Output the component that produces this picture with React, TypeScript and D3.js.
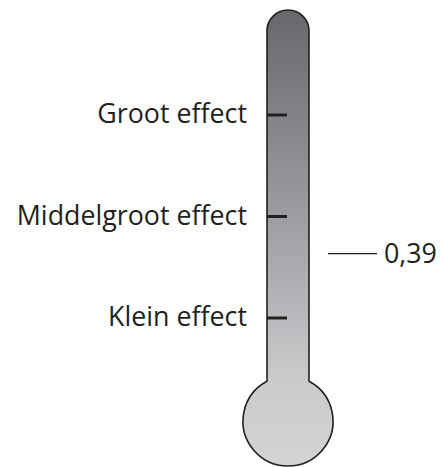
import React from "react";
import * as d3 from "d3";

const categories = ["Klein effect", "Middelgroot effect", "Groot effect"];
const categoryValues = [0.2, 0.5, 0.8];
const observedValue = 0.39;
const observedLabel = "0,39";

export default function App() {
  const W = 442, H = 467;
  const y = d3.scaleLinear().domain([0.2, 0.8]).range([318, 115]);
  const tubeL = 267, tubeR = 309, tubeTop = 10;
  const r = (tubeR - tubeL) / 2;
  const cx = (tubeL + tubeR) / 2;
  const bulbCy = 421, bulbR = 45;
  const dx = cx - tubeL;
  const jy = bulbCy - Math.sqrt(bulbR * bulbR - dx * dx);
  const p = d3.path();
  p.moveTo(tubeL, jy);
  p.lineTo(tubeL, tubeTop + r);
  p.arc(cx, tubeTop + r, r, Math.PI, 0);
  p.lineTo(tubeR, jy);
  const a0 = Math.atan2(jy - bulbCy, tubeR - cx);
  const a1 = Math.atan2(jy - bulbCy, tubeL - cx) + 2 * Math.PI;
  p.arc(cx, bulbCy, bulbR, a0, a1);
  p.closePath();
  const font = "'Open Sans', sans-serif";
  const fs = 26.8;
  return (
    <svg width={W} height={H} style={{ position: "absolute", left: 0, top: 0 }}>
      <defs>
        <linearGradient id="g" gradientUnits="userSpaceOnUse" x1={0} y1={tubeTop} x2={0} y2={H}>
          <stop offset="0" stopColor="#67686c" />
          <stop offset="0.45" stopColor="#9c9da0" />
          <stop offset="0.82" stopColor="#cbccce" />
          <stop offset="1" stopColor="#d2d3d5" />
        </linearGradient>
      </defs>
      <path d={p.toString()} fill="url(#g)" stroke="#231f20" strokeWidth={1.6} />
      {categories.map((c, i) => (
        <g key={c}>
          <line x1={tubeL} x2={tubeL + 20} y1={y(categoryValues[i])} y2={y(categoryValues[i])} stroke="#231f20" strokeWidth={3} />
          <text x={247} y={y(categoryValues[i])} dy="0.3em" textAnchor="end" fontFamily={font} fontSize={fs} fill="#231f20">{c}</text>
        </g>
      ))}
      <line x1={328} x2={377} y1={y(observedValue)} y2={y(observedValue)} stroke="#231f20" strokeWidth={1.3} />
      <text x={384} y={y(observedValue)} dy="0.33em" fontFamily={font} fontSize={fs} fill="#231f20">{observedLabel}</text>
    </svg>
  );
}
